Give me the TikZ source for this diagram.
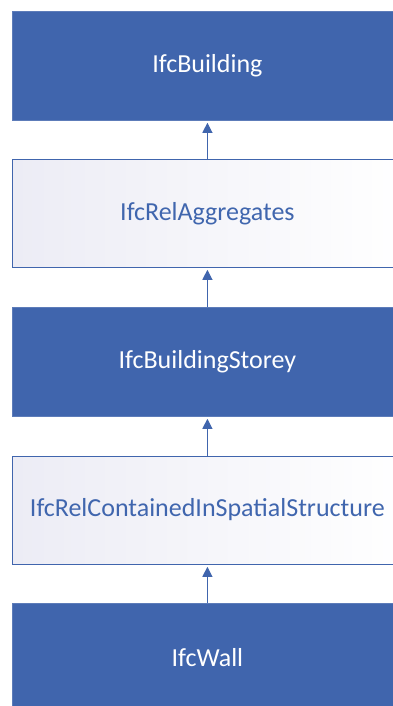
\documentclass[tikz,border=0pt]{standalone}
\usepackage{fontspec}
\setmainfont{Carlito}
\usetikzlibrary{arrows.meta}
\definecolor{boxblue}{HTML}{4065AD}
\definecolor{txtblue}{HTML}{4066AE}
\definecolor{shadecol}{HTML}{ECECF5}
\begin{document}
\begin{tikzpicture}[x=1pt,y=-1pt,
  base/.style={anchor=north west, minimum width=390pt, inner sep=0pt, font=\fontsize{26}{30}\selectfont, line width=0.8pt},
  solidbox/.style={base, fill=boxblue, draw=boxblue!85!white, text=white},
  relbox/.style={base, draw=boxblue, left color=shadecol, right color=white, text=txtblue},
  conn/.style={draw=boxblue, line width=1pt, -{Triangle[width=10pt,length=10pt]}}]
\useasboundingbox (0,0) rectangle (393,706);
\fill[white] (0,0) rectangle (393,706);
\node[solidbox, minimum height=109pt] (b1) at (12,11) {\raisebox{-2pt}{IfcBuilding}};
\node[relbox, minimum height=108pt] (b2) at (12,159) {IfcRelAggregates};
\node[solidbox, minimum height=109pt] (b3) at (12,307) {IfcBuildingStorey};
\node[relbox, minimum height=108pt] (b4) at (12,456) {\raisebox{6pt}{IfcRelContainedInSpatialStructure}};
\node[solidbox, minimum height=109pt] (b5) at (12,603) {IfcWall};
\draw[conn] (b2.north) -- ([yshift=-2pt]b1.south);
\draw[conn] (b3.north) -- ([yshift=-2pt]b2.south);
\draw[conn] (b4.north) -- ([yshift=-2pt]b3.south);
\draw[conn] (b5.north) -- ([yshift=-2pt]b4.south);
\end{tikzpicture}
\end{document}
